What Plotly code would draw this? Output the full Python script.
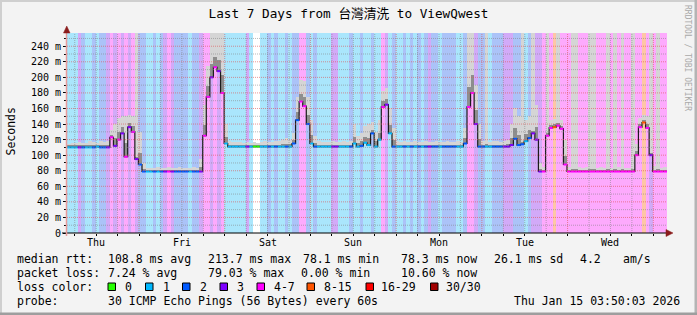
import plotly.graph_objects as go
from datetime import datetime, timedelta

# ---------------- data ----------------
start_time = datetime(2026, 1, 8, 3, 50, 3)
end_time = datetime(2026, 1, 15, 3, 50, 3)
day_names = ["Thu", "Fri", "Sat", "Sun", "Mon", "Tue", "Wed"]

# hourly median rtt (ms), 24 values per row, starting at start_time
median_rtt = [
    110, 110, 110, 110, 110, 110, 110, 110, 111, 110, 110, 110, 123, 112, 120, 128, 98, 136, 130, 95, 88, 79, 79, 79,
    79, 79, 79, 79, 79, 79, 79, 79, 79, 79, 79, 79, 79, 79, 125, 175, 200, 213, 208, 180, 115, 111, 111, 111,
    111, 111, 111, 111, 111, 111, 111, 111, 111, 111, 111, 111, 111, 111, 111, 115, 145, 169, 163, 140, 115, 111, 111, 111,
    111, 111, 111, 111, 111, 111, 111, 111, 115, 111, 112, 116, 113, 128, 111, 120, 162, 165, 128, 111, 111, 111, 111, 111,
    111, 111, 111, 111, 111, 111, 111, 111, 111, 111, 111, 111, 111, 111, 111, 115, 162, 180, 140, 111, 111, 111, 111, 111,
    111, 111, 111, 111, 113, 121, 113, 114, 118, 122, 128, 120, 79, 79, 125, 135, 136, 138, 134, 88, 79, 79, 79, 79,
    79, 79, 79, 79, 79, 79, 79, 79, 79, 79, 79, 79, 79, 79, 79, 100, 136, 142, 135, 100, 79, 79, 79, 79,
]

# hourly upper edge of the smoke (ms); values above the chart top run off the graph
smoke_max = [
    115, 116, 116, 117, 116, 116, 118, 117, 116, 118, 117, 118, 132, 140, 148, 150, 150, 152, 150, 300, 130, 90, 84, 84,
    84, 85, 84, 84, 85, 84, 84, 85, 84, 84, 84, 85, 84, 95, 165, 215, 300, 300, 300, 300, 140, 118, 117, 117,
    117, 116, 117, 116, 117, 116, 117, 118, 117, 117, 118, 118, 120, 122, 120, 128, 175, 197, 195, 175, 145, 125, 118, 117,
    117, 117, 118, 117, 117, 118, 117, 118, 140, 125, 128, 138, 140, 142, 130, 145, 182, 186, 160, 135, 118, 117, 118, 117,
    117, 118, 117, 117, 118, 117, 117, 118, 117, 117, 118, 117, 117, 118, 117, 135, 300, 300, 190, 140, 118, 300, 117, 118,
    118, 117, 118, 120, 140, 160, 150, 300, 145, 150, 300, 165, 90, 85, 300, 145, 146, 300, 145, 120, 85, 300, 300, 85,
    84, 85, 300, 300, 84, 85, 84, 300, 84, 300, 85, 300, 84, 84, 300, 115, 148, 152, 150, 300, 86, 300, 84, 85,
]

# hourly loss class: 0 -> 0, 1 -> 1, 2 -> 2, 3 -> 3, 4 -> 4-7, 5 -> 8-15
loss_rows = [
    "111321121223434343432211",
    "212343222212234434341111",
    "113100112121121224421211",
    "113311121121121143121121",
    "212123221222211244322112",
    "223332221233344454444444",
    "444444444444444445434444",
]

y_tick_vals = [0, 20, 40, 60, 80, 100, 120, 140, 160, 180, 200, 220, 240]
y_tick_text = ["0", "20 m", "40 m", "60 m", "80 m", "100 m", "120 m", "140 m",
               "160 m", "180 m", "200 m", "220 m", "240 m"]
y_top = 257

legend_labels = ["0", "1", "2", "3", "4-7", "8-15", "16-29", "30/30"]
legend_colors = ["#26ff00", "#00b8ff", "#0059ff", "#7e00ff", "#ff00ff", "#ff5500", "#ff0000", "#a00000"]
line_colors = {0: "#26ff00", 1: "#00b8ff", 2: "#0059ff", 3: "#7e00ff", 4: "#ff00ff", 5: "#ff5500"}
bg_colors = {0: "#ffffff", 1: "#aae6fc", 2: "#abc3f8", 3: "#d2aaf8", 4: "#fdaafd", 5: "#fec6a6"}

rtt_fields = ["108.8 ms avg", "213.7 ms max", "78.1 ms min", "78.3 ms now", "26.1 ms sd", "4.2", "am/s"]
loss_fields = ["7.24 % avg", "79.03 % max", "0.00 % min", "10.60 % now"]
probe_text = "30 ICMP Echo Pings (56 Bytes) every 60s"
stamp_text = "Thu Jan 15 03:50:03 2026"
title_text = "Last 7 Days from 台灣清洗 to ViewQwest"

# ---------------- layout geometry ----------------
W, H = 697, 315
PL, PR, PT, PB = 67, 667, 33, 233
MONO = "DejaVu Sans Mono, Noto Sans CJK TC, monospace"


def px(x):
    return (x - PL) / (PR - PL)


def py(y):
    return (PB - y) / (PB - PT)


loss_class = [int(c) for c in "".join(loss_rows)]
n = len(median_rtt)
total_hours = (end_time - start_time).total_seconds() / 3600.0
hours = list(range(n))
centers = [h + 0.5 for h in hours]


def hours_since_start(t):
    return (t - start_time).total_seconds() / 3600.0


first_midnight = datetime(2026, 1, 9, 0, 0, 0)
midnights = [hours_since_start(first_midnight + timedelta(days=k)) for k in range(7)]
six_hours = []
t = datetime(2026, 1, 8, 6, 0, 0)
while t < end_time:
    six_hours.append(hours_since_start(t))
    t += timedelta(hours=6)
noons = [hours_since_start(datetime(2026, 1, 8, 12) + timedelta(days=k)) for k in range(7)]

fig = go.Figure()

# loss background
fig.add_trace(go.Bar(x=centers, y=[y_top] * n, width=1, base=0,
                     marker=dict(color=[bg_colors[c] for c in loss_class], line=dict(width=0)),
                     hoverinfo="skip", showlegend=False))

# smoke
smoke_top = [min(s, y_top) for s in smoke_max]
fig.add_trace(go.Bar(x=centers, y=[st - m for st, m in zip(smoke_top, median_rtt)], base=median_rtt, width=1,
                     marker=dict(color="#d5d5d5", line=dict(width=0)), hoverinfo="skip", showlegend=False))
core = []
for s, m in zip(smoke_max, median_rtt):
    if s >= y_top:
        core.append(min(25, 0.3 * (y_top - m)) if m > 140 else 3)
    else:
        core.append(max(2.5, 0.35 * (s - m)))
fig.add_trace(go.Bar(x=centers, y=core, base=median_rtt, width=1,
                     marker=dict(color="#8e8e8e", line=dict(width=0)), hoverinfo="skip", showlegend=False))

# median line: dark connector + loss coloured segments
fig.add_trace(go.Scatter(x=hours + [n], y=median_rtt + [median_rtt[-1]], mode="lines",
                         line=dict(color="#1c1c1c", width=1.2, shape="hv"), hoverinfo="skip", showlegend=False))
for c, col in line_colors.items():
    xs, ys = [], []
    for h in hours:
        if loss_class[h] == c:
            xs += [h, h + 1, None]
            ys += [median_rtt[h], median_rtt[h], None]
    if xs:
        fig.add_trace(go.Scatter(x=xs, y=ys, mode="lines", line=dict(color=col, width=2),
                                 hoverinfo="skip", showlegend=False))

shapes = []
GRID = "rgba(130,130,130,0.55)"
MGRID = "rgba(222,80,80,0.6)"
for v in range(10, y_top, 10):
    shapes.append(dict(type="line", xref="x", yref="y", x0=0, x1=total_hours, y0=v, y1=v, layer="above",
                       line=dict(color=MGRID if v % 20 == 0 else GRID, width=1, dash="1px,1px")))
for v in six_hours:
    is_mid = any(abs(v - m) < 1e-6 for m in midnights)
    shapes.append(dict(type="line", xref="x", yref="y", x0=v, x1=v, y0=0, y1=y_top, layer="above",
                       line=dict(color=MGRID if is_mid else GRID, width=1, dash="1px,1px")))

# axes
shapes.append(dict(type="line", xref="paper", yref="paper", x0=px(62), x1=px(667), y0=py(233), y1=py(233),
                   line=dict(color="#000000", width=1), layer="above"))
shapes.append(dict(type="line", xref="paper", yref="paper", x0=px(66.5), x1=px(66.5), y0=py(236), y1=py(31),
                   line=dict(color="#e79a9a", width=1.5), layer="above"))
ARROW = "#8a1c1c"
shapes.append(dict(type="path", xref="paper", yref="paper", layer="above",
                   path=f"M {px(666)} {py(229.5)} L {px(673)} {py(233)} L {px(666)} {py(236.5)} Z",
                   fillcolor=ARROW, line=dict(color=ARROW, width=0.5)))
shapes.append(dict(type="path", xref="paper", yref="paper", layer="above",
                   path=f"M {px(63.5)} {py(33)} L {px(66.75)} {py(26)} L {px(70)} {py(33)} Z",
                   fillcolor=ARROW, line=dict(color=ARROW, width=0.5)))

# frame of the picture
shapes.append(dict(type="rect", xref="paper", yref="paper", x0=px(0), x1=px(697), y0=py(0), y1=py(2),
                   fillcolor="#cfcfcf", line=dict(width=0)))
shapes.append(dict(type="rect", xref="paper", yref="paper", x0=px(0), x1=px(2), y0=py(0), y1=py(315),
                   fillcolor="#cfcfcf", line=dict(width=0)))
shapes.append(dict(type="rect", xref="paper", yref="paper", x0=px(694.5), x1=px(697), y0=py(0), y1=py(315),
                   fillcolor="#b4b4b4", line=dict(width=0)))
shapes.append(dict(type="rect", xref="paper", yref="paper", x0=px(0), x1=px(697), y0=py(312.5), y1=py(315),
                   fillcolor="#9e9e9e", line=dict(width=0)))

# loss colour legend boxes
box_x = [108, 145.5, 182.5, 220, 257, 307, 366, 430.5]
label_x = [124, 161.7, 199, 236, 273.3, 323.3, 380, 445]
for bx, col in zip(box_x, legend_colors):
    shapes.append(dict(type="rect", xref="paper", yref="paper", x0=px(bx), x1=px(bx + 7.5),
                       y0=py(283), y1=py(290.5), fillcolor=col, line=dict(color="#000000", width=1)))

ann = []
FS = 11.5


def text(x, y, s, size=FS, color="#000000", anchor="left", angle=0):
    ann.append(dict(xref="paper", yref="paper", x=px(x), y=py(y), text=s, showarrow=False,
                    xanchor=anchor, yanchor="middle", textangle=angle, borderpad=0,
                    font=dict(family=MONO, size=size, color=color)))


for nm, xh in zip(day_names, noons):
    ann.append(dict(xref="x", yref="paper", x=xh, y=py(242.5), text=nm, showarrow=False,
                    xanchor="center", yanchor="middle", font=dict(family=MONO, size=10, color="#000000")))

L1, L2, L3, L4 = 258.5, 273, 287, 301
text(16, L1, "median rtt:")
for xx, s in zip([107, 207, 301.5, 400, 493, 579, 621.5], rtt_fields):
    text(xx, L1, s)
text(16, L2, "packet loss:")
for xx, s in zip([107, 207, 300, 400], loss_fields):
    text(xx, L2, s)
text(16, L3, "loss color:")
for xx, s in zip(label_x, legend_labels):
    text(xx, L3, s)
text(16, L4, "probe:")
text(107, L4, probe_text)
text(513, L4, stamp_text)
text(10, 131.5, "Seconds", anchor="center", angle=-90)
text(688, 58, "RRDTOOL / TOBI OETIKER", size=8, color="#a9a9a9", anchor="center", angle=90)

fig.update_layout(
    width=W, height=H, autosize=False,
    margin=dict(l=PL, r=W - PR, t=PT, b=H - PB, pad=0),
    paper_bgcolor="#f3f3f3", plot_bgcolor="#ffffff",
    barmode="overlay", bargap=0,
    showlegend=False,
    title=dict(text=title_text, x=0.5, xref="container", xanchor="center",
               y=1 - 14 / H, yref="container", yanchor="middle",
               font=dict(family=MONO, size=12.7, color="#000000")),
    xaxis=dict(range=[0, total_hours], showgrid=False, zeroline=False, showline=False,
               tickmode="array", tickvals=midnights, ticktext=[""] * len(midnights),
               ticks="outside", ticklen=3, tickcolor="#de5050", tickwidth=1,
               minor=dict(tickmode="array", tickvals=six_hours, ticks="outside", ticklen=2,
                          tickcolor="#000000", tickwidth=1, showgrid=False),
               fixedrange=True),
    yaxis=dict(range=[0, y_top], showgrid=False, zeroline=False, showline=False,
               tickmode="array", tickvals=y_tick_vals, ticktext=y_tick_text,
               ticks="outside", ticklen=3, tickcolor="#000000", tickwidth=1,
               tickfont=dict(family=MONO, size=10, color="#000000"),
               minor=dict(tickmode="linear", tick0=0, dtick=10, ticks="outside", ticklen=2,
                          tickcolor="#000000", showgrid=False),
               fixedrange=True),
    shapes=shapes,
    annotations=ann,
)

fig.write_html("out.html")
